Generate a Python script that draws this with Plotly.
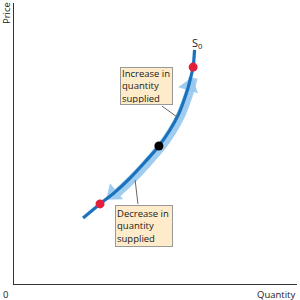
import plotly.graph_objects as go

# Supply curve S0 (quantity, price) in chart units
quantity = [2.44, 3.04, 3.57, 4.10, 4.63, 5.12, 5.51, 5.80, 6.01, 6.15, 6.25, 6.33, 6.36, 6.38]
price = [2.35, 2.85, 3.27, 3.77, 4.34, 4.91, 5.48, 6.01, 6.55, 6.98, 7.37, 7.72, 8.04, 8.33]

# Points on the curve
red_q = [3.04, 6.33]
red_p = [2.85, 7.72]
black_q = [5.12]
black_p = [4.91]

# Movement-along-curve arrows (band covers curve indices 2..10)
band_start, band_end = 2, 10
arrow_q = [3.50, 6.20]
arrow_p = [3.20, 7.05]
arrow_angle = [231, 17]

box_texts = ["Increase in<br>quantity<br>supplied", "Decrease in<br>quantity<br>supplied"]

CURVE = "#1a72bd"
BAND = "rgba(150,198,238,0.9)"
FONT = "Open Sans, sans-serif"

fig = go.Figure()

# light band
fig.add_trace(go.Scatter(
    x=[q + 0.08 for q in quantity[band_start:band_end + 1]],
    y=[p - 0.03 for p in price[band_start:band_end + 1]],
    mode="lines", line=dict(color=BAND, width=9, shape="spline"),
    hoverinfo="skip", showlegend=False))
fig.add_trace(go.Scatter(
    x=arrow_q, y=arrow_p, mode="markers",
    marker=dict(symbol="triangle-up", size=18, angle=arrow_angle, color=BAND, line=dict(width=0)),
    hoverinfo="skip", showlegend=False))

# supply curve
fig.add_trace(go.Scatter(
    x=quantity, y=price, mode="lines",
    line=dict(color=CURVE, width=3.2, shape="spline"),
    hoverinfo="skip", showlegend=False))

fig.add_trace(go.Scatter(
    x=red_q, y=red_p, mode="markers",
    marker=dict(size=9, color="#e2203c"), hoverinfo="skip", showlegend=False))
fig.add_trace(go.Scatter(
    x=black_q, y=black_p, mode="markers",
    marker=dict(size=9, color="#000000"), hoverinfo="skip", showlegend=False))

# pointer lines
fig.add_shape(type="line", x0=5.23, y0=6.33, x1=5.77, y1=5.94, line=dict(color="#666666", width=1))
fig.add_shape(type="line", x0=4.38, y0=2.85, x1=4.28, y1=3.70, line=dict(color="#666666", width=1))

# callout boxes
fig.add_annotation(x=3.75, y=7.72, xref="x", yref="y", xanchor="left", yanchor="top",
                   text=box_texts[0], showarrow=False, align="left", valign="middle",
                   width=49, height=34,
                   font=dict(family=FONT, size=9.5, color="#1a1a1a"),
                   bgcolor="#fdebc9", bordercolor="#999999", borderwidth=1, borderpad=1)
fig.add_annotation(x=3.57, y=2.81, xref="x", yref="y", xanchor="left", yanchor="top",
                   text=box_texts[1], showarrow=False, align="left", valign="middle",
                   width=54, height=38,
                   font=dict(family=FONT, size=9.5, color="#1a1a1a"),
                   bgcolor="#fdebc9", bordercolor="#999999", borderwidth=1, borderpad=1)

# S0 label
fig.add_annotation(x=6.45, y=8.33, xref="x", yref="y", xanchor="center", yanchor="bottom",
                   text="S<sub>0</sub>", showarrow=False, yshift=-3,
                   font=dict(family=FONT, size=11, color="#222222"))

# axis labels
fig.add_annotation(x=0, y=1, xref="paper", yref="paper", xanchor="center", yanchor="top",
                   text="Price", textangle=-90, showarrow=False, xshift=-8, yshift=3,
                   font=dict(family=FONT, size=9.5, color="#222222"))
fig.add_annotation(x=1, y=0, xref="paper", yref="paper", xanchor="right", yanchor="top",
                   text="Quantity", showarrow=False, yshift=-2,
                   font=dict(family=FONT, size=9.5, color="#222222"))
fig.add_annotation(x=0, y=0, xref="paper", yref="paper", xanchor="right", yanchor="top",
                   text="0", showarrow=False, xshift=-4, yshift=-2,
                   font=dict(family=FONT, size=9.5, color="#222222"))

axis_common = dict(showgrid=False, zeroline=False, showticklabels=False, ticks="",
                   showline=True, linecolor="#333333", linewidth=1.2, fixedrange=True)
fig.update_xaxes(range=[0, 10], **axis_common)
fig.update_yaxes(range=[0, 10], **axis_common)
fig.update_layout(width=300, height=300, margin=dict(l=14, r=3, t=3, b=16),
                  plot_bgcolor="white", paper_bgcolor="white")

fig.write_html("out.html")
